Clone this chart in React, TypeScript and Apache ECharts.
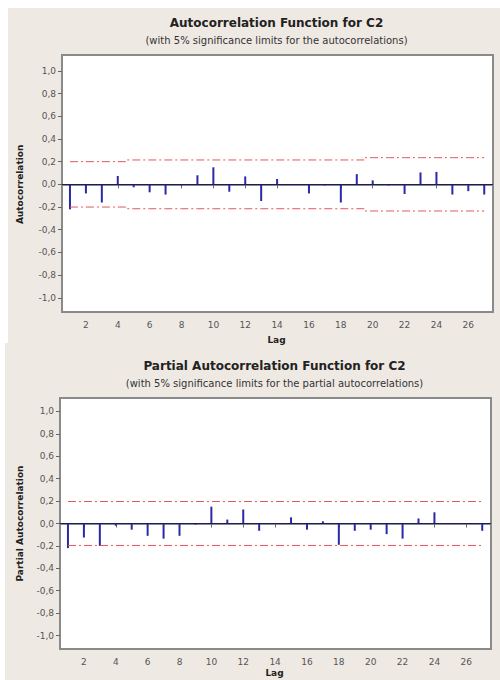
import React, { useEffect, useRef } from "react";
import * as echarts from "echarts";

const lags = [1,2,3,4,5,6,7,8,9,10,11,12,13,14,15,16,17,18,19,20,21,22,23,24,25,26,27];
const acfValues = [-0.22,-0.08,-0.16,0.074,-0.026,-0.07,-0.09,-0.01,0.08,0.15,-0.065,0.07,-0.147,0.047,-0.005,-0.08,-0.01,-0.16,0.09,0.035,-0.01,-0.085,0.105,0.11,-0.09,-0.06,-0.09];
const acfLimit = [0.20,0.20,0.20,0.20,0.215,0.215,0.215,0.215,0.215,0.215,0.215,0.215,0.215,0.215,0.215,0.215,0.215,0.215,0.215,0.235,0.235,0.235,0.235,0.235,0.235,0.235,0.235];
const pacfValues = [-0.22,-0.125,-0.20,-0.02,-0.055,-0.11,-0.135,-0.11,-0.01,0.15,0.035,0.125,-0.065,0.003,0.055,-0.055,0.02,-0.19,-0.065,-0.055,-0.095,-0.135,0.045,0.10,-0.005,-0.005,-0.065];
const pacfLimit = 0.196;
const xTicks = [2,4,6,8,10,12,14,16,18,20,22,24,26];
const yTicks = [-1.0,-0.8,-0.6,-0.4,-0.2,0,0.2,0.4,0.6,0.8,1.0];

const titles = ["Autocorrelation Function for C2", "Partial Autocorrelation Function for C2"];
const subtitles = ["(with 5% significance limits for the autocorrelations)", "(with 5% significance limits for the partial autocorrelations)"];
const yNames = ["Autocorrelation", "Partial Autocorrelation"];
const xName = "Lag";

const FONT = "DejaVu Sans";
const BG = "#efe9e3";
const LIMIT_COLOR = "#e05858";

export default function App() {
  const ref = useRef<HTMLDivElement>(null);
  useEffect(() => {
    const chart = echarts.init(ref.current!, null, { renderer: "svg" });
    const grids = [
      { left: 62, top: 55, width: 431, height: 257, ymin: -1.125, ymax: 1.14 },
      { left: 60, top: 398, width: 431, height: 251, ymin: -1.12, ymax: 1.12 },
    ];
    const fmt = (v: number) => v.toFixed(1).replace(".", ",");
    const xAxes = grids.map((g, i) => ({
      type: "value", gridIndex: i, min: 0.5, max: 27.55,
      splitLine: { show: false },
      axisLine: { show: true, lineStyle: { color: "#8a8a8a", width: 2 } },
      axisTick: { show: true, customValues: xTicks, length: 4, lineStyle: { color: "#666" } },
      axisLabel: { customValues: xTicks, margin: 8, color: "#555", fontFamily: FONT, fontSize: 9 },
    }));
    const yAxes = grids.map((g, i) => ({
      type: "value", gridIndex: i, min: g.ymin, max: g.ymax,
      splitLine: { show: false },
      axisLine: { show: true, lineStyle: { color: "#8a8a8a", width: 2 } },
      axisTick: { show: true, customValues: yTicks, length: 4, lineStyle: { color: "#666" } },
      axisLabel: { customValues: yTicks, margin: 6, color: "#555", fontFamily: FONT, fontSize: 9, formatter: fmt },
    }));
    const series: any[] = [];
    const vals = [acfValues, pacfValues];
    vals.forEach((arr, i) => {
      series.push({
        type: "bar", xAxisIndex: i, yAxisIndex: i, barWidth: 2,
        data: lags.map((l, k) => [l, arr[k]]),
        itemStyle: { color: "#2a2aa8" },
        markLine: {
          silent: true, symbol: "none", label: { show: false },
          lineStyle: { color: "#1c1c5c", width: 1, type: "solid" },
          data: [{ yAxis: 0 }],
        },
      });
    });
    const acfUp = lags.map((l, k) => [l, acfLimit[k]]);
    const acfLo = lags.map((l, k) => [l, -acfLimit[k]]);
    const pUp = lags.map((l) => [l, pacfLimit]);
    const pLo = lags.map((l) => [l, -pacfLimit]);
    const limitSets: [number[][], number, any][] = [[acfUp, 0, "middle"], [acfLo, 0, "middle"], [pUp, 1, false], [pLo, 1, false]];
    limitSets.forEach(([d, i, step]) => {
      series.push({
        type: "line", xAxisIndex: i, yAxisIndex: i, data: d, step,
        symbol: "none", color: LIMIT_COLOR,
        itemStyle: { color: LIMIT_COLOR },
        lineStyle: { color: LIMIT_COLOR, width: 1, type: [8, 3, 2, 3], opacity: 1 },
        z: 3,
      });
    });
    const graphics: any[] = [
      { type: "rect", shape: { x: 8, y: 8, width: 492, height: 335 }, style: { fill: BG }, z: -10 },
      { type: "rect", shape: { x: 5, y: 343, width: 495, height: 337 }, style: { fill: BG }, z: -10 },
    ];
    grids.forEach((g, i) => {
      graphics.push({ type: "rect", shape: { x: g.left, y: g.top, width: g.width, height: g.height }, style: { fill: "#fff", stroke: "#8a8a8a", lineWidth: 2 }, z: -5 });
      const cx = g.left + g.width / 2 - 1;
      graphics.push({ type: "text", x: cx, y: g.top - 32, style: { text: titles[i], font: `bold 12px "${FONT}"`, fill: "#222", textAlign: "center", textVerticalAlign: "middle" } });
      graphics.push({ type: "text", x: cx, y: g.top - 15, style: { text: subtitles[i], font: `10px "${FONT}"`, fill: "#333", textAlign: "center", textVerticalAlign: "middle" } });
      const y0 = g.top + g.height * (g.ymax / (g.ymax - g.ymin));
      graphics.push({ type: "text", x: 20, y: y0, rotation: Math.PI / 2, style: { text: yNames[i], font: `bold 9px "${FONT}"`, fill: "#222", textAlign: "center", textVerticalAlign: "middle" } });
      graphics.push({ type: "text", x: cx, y: Math.min(g.top + g.height + 28, 673), style: { text: xName, font: `bold 9px "${FONT}"`, fill: "#222", textAlign: "center", textVerticalAlign: "middle" } });
    });
    chart.setOption({
      animation: false,
      backgroundColor: "#fff",
      grid: grids.map((g) => ({ left: g.left, top: g.top, width: g.width, height: g.height, containLabel: false })),
      xAxis: xAxes,
      yAxis: yAxes,
      series,
      graphic: graphics,
    });
    return () => chart.dispose();
  }, []);
  return <div ref={ref} style={{ position: "absolute", left: 0, top: 0, width: 500, height: 680 }} />;
}
